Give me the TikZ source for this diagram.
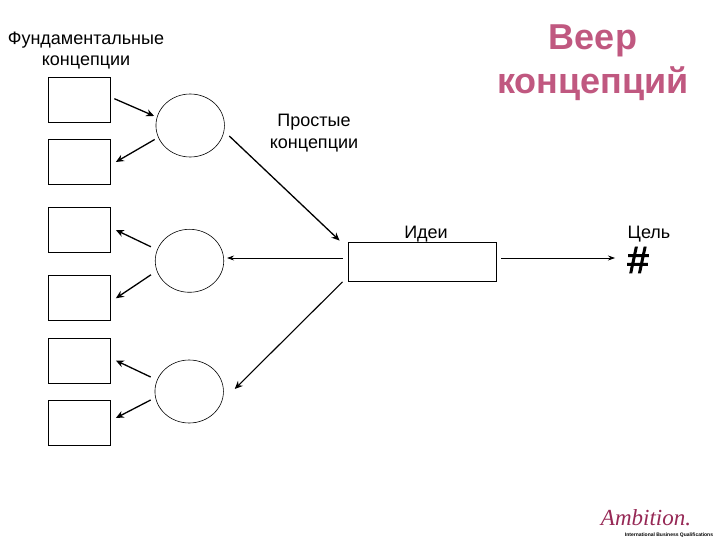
\documentclass[tikz,border=0pt]{standalone}
\usepackage{fontspec}
\setmainfont{Liberation Sans}
\newfontfamily\logofont{Liberation Serif}
\newfontfamily\hashfont[FakeBold=2.5]{Liberation Sans}
\definecolor{titlepink}{RGB}{192,88,128}
\definecolor{logopink}{RGB}{150,40,85}
\usetikzlibrary{shapes.geometric,arrows.meta}
\tikzset{
  conceptbox/.style={draw,line width=0.8pt,inner sep=0pt,minimum width=62.5pt,minimum height=45pt},
  ideacircle/.style={draw,ellipse,line width=0.6pt,inner sep=0pt,minimum width=68.5pt,minimum height=63pt},
  arr/.style={-{Stealth[length=8pt,width=7pt]},line width=1.3pt},
  thinarr/.style={-{Stealth[length=7pt,width=5pt]},line width=0.7pt},
  lbl/.style={align=center,font=\fontsize{18}{21.5}\selectfont,inner sep=0pt}
}
\begin{document}
\begin{tikzpicture}[x=1pt,y=-1pt]
\useasboundingbox (0,0) rectangle (720,540);
\node[conceptbox] (b1) at (79.2,99.7) {};
\node[conceptbox] (b2) at (79.2,162) {};
\node[conceptbox] (b3) at (79.2,230) {};
\node[conceptbox] (b4) at (79.2,298.3) {};
\node[conceptbox] (b5) at (79.2,360.5) {};
\node[conceptbox] (b6) at (79.2,422.5) {};
\node[ideacircle] (c1) at (190.2,125.5) {};
\node[ideacircle] (c2) at (189.5,260.8) {};
\node[ideacircle] (c3) at (189.2,391.5) {};
\node[draw,line width=0.8pt,inner sep=0pt,minimum width=148.5pt,minimum height=39.5pt] (idea) at (422.2,261.7) {};
\coordinate (goal) at (615,258);
\draw[arr] ([xshift=3.5pt,yshift=1pt]b1.east)--([xshift=-1.5pt,yshift=9.5pt]c1.west);
\draw[arr] ([xshift=-1pt,yshift=-14pt]c1.west)--([xshift=5pt]b2.east);
\draw[arr] ([xshift=-4pt,yshift=14pt]c2.west)--([xshift=5pt]b3.east);
\draw[arr] ([xshift=-4pt,yshift=-14pt]c2.west)--([xshift=5pt]b4.east);
\draw[arr] ([xshift=-4pt,yshift=14.5pt]c3.west)--([xshift=5pt]b5.east);
\draw[arr] ([xshift=-4pt,yshift=-8.5pt]c3.west)--([xshift=5pt,yshift=4.5pt]b6.east);
\draw[arr] ([xshift=4.5pt,yshift=-10.5pt]c1.east)--([xshift=-8pt,yshift=1pt]idea.north west);
\draw[thinarr] ([xshift=-5pt,yshift=3.7pt]idea.west)--([xshift=3pt,yshift=2.8pt]c2.east);
\draw[thinarr] ([xshift=4.5pt,yshift=3.7pt]idea.east)--(goal);
\draw[arr,line width=1.1pt] ([xshift=-5pt]idea.south west)--([xshift=11pt,yshift=2.5pt]c3.east);
\node[lbl] (fund) at (86,50.5) {Фундаментальные\\концепции};
\node[lbl] (simple) at (314,133) {Простые\\концепции};
\node[lbl] (ideas) at (426,234.5) {Идеи};
\node[lbl] (goaltxt) at (649,234.5) {Цель};
\node[font=\hashfont\fontsize{38}{38}\selectfont,inner sep=0pt] (hash) at (638,260) {\#};
\node[align=center,text=titlepink,font=\fontsize{36}{44}\selectfont\bfseries,inner sep=0pt] (title) at (593,63) {Веер\\концепций};
\node[text=logopink,font=\logofont\itshape\fontsize{23}{23}\selectfont,inner sep=0pt] (logo) at (646,518) {Ambition.};
\node[font=\fontsize{5}{5}\selectfont\bfseries,inner sep=0pt] (logotxt) at (669,535) {International Business Qualifications};
\end{tikzpicture}
\end{document}
